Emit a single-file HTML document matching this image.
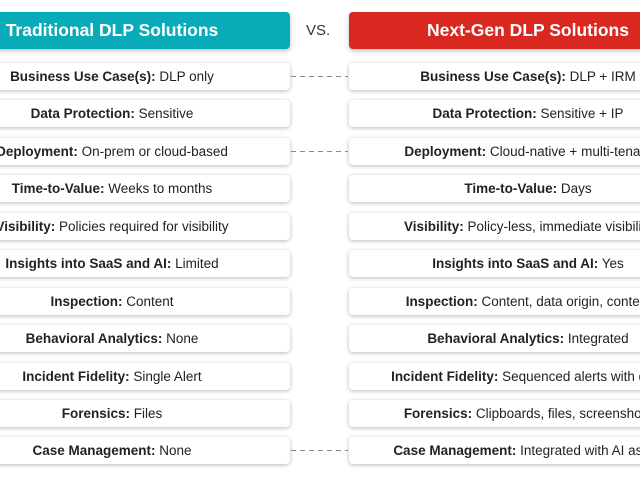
<!DOCTYPE html>
<html><head><style>
html,body{margin:0;padding:0;}
body{width:640px;height:480px;overflow:hidden;position:relative;background:#fff;font-family:"Liberation Sans",sans-serif;}
.h{position:absolute;top:12px;height:37px;border-radius:4px;color:#fff;font-weight:bold;font-size:17.5px;line-height:37px;text-align:center;box-shadow:0 2px 4px rgba(0,0,0,.25);white-space:nowrap;overflow:hidden;}
.b{position:absolute;height:27px;border-radius:4px;background:#fff;box-shadow:0 1px 4px rgba(0,0,0,.28);font-size:13.5px;line-height:27px;text-align:center;color:#222;white-space:nowrap;overflow:hidden;}
.b b{font-weight:bold;}
.l{left:-66px;width:356px;}
.r{left:349px;width:358px;}
.d{position:absolute;left:291px;width:57px;height:1px;background:repeating-linear-gradient(90deg,#888 0 5px,transparent 5px 9px);}
</style></head><body>
<div class="h" style="left:-66px;width:356px;background:#0aabb8">Traditional DLP Solutions</div>
<div style="position:absolute;left:306px;top:22px;font-size:15px;color:#333">VS.</div>
<div class="h" style="left:349px;width:358px;background:#d9281f">Next-Gen DLP Solutions</div>

<div class="b l" style="top:63px"><b>Business Use Case(s):</b> DLP only</div>
<div class="b l" style="top:100px"><b>Data Protection:</b> Sensitive</div>
<div class="b l" style="top:138px"><b>Deployment:</b> On-prem or cloud-based</div>
<div class="b l" style="top:175px"><b>Time-to-Value:</b> Weeks to months</div>
<div class="b l" style="top:213px"><b>Visibility:</b> Policies required for visibility</div>
<div class="b l" style="top:250px"><b>Insights into SaaS and AI:</b> Limited</div>
<div class="b l" style="top:288px"><b>Inspection:</b> Content</div>
<div class="b l" style="top:325px"><b>Behavioral Analytics:</b> None</div>
<div class="b l" style="top:363px"><b>Incident Fidelity:</b> Single Alert</div>
<div class="b l" style="top:400px"><b>Forensics:</b> Files</div>
<div class="b l" style="top:437px"><b>Case Management:</b> None</div>

<div class="b r" style="top:63px"><b>Business Use Case(s):</b> DLP + IRM</div>
<div class="b r" style="top:100px"><b>Data Protection:</b> Sensitive + IP</div>
<div class="b r" style="top:138px"><b>Deployment:</b> Cloud-native + multi-tenant</div>
<div class="b r" style="top:175px"><b>Time-to-Value:</b> Days</div>
<div class="b r" style="top:213px"><b>Visibility:</b> Policy-less, immediate visibility</div>
<div class="b r" style="top:250px"><b>Insights into SaaS and AI:</b> Yes</div>
<div class="b r" style="top:288px"><b>Inspection:</b> Content, data origin, context</div>
<div class="b r" style="top:325px"><b>Behavioral Analytics:</b> Integrated</div>
<div class="b r" style="top:363px"><b>Incident Fidelity:</b> Sequenced alerts with data</div>
<div class="b r" style="top:400px"><b>Forensics:</b> Clipboards, files, screenshots</div>
<div class="b r" style="top:437px"><b>Case Management:</b> Integrated with AI assist</div>

<div class="d" style="top:76px"></div>
<div class="d" style="top:151px"></div>
<div class="d" style="top:450px"></div>
</body></html>
